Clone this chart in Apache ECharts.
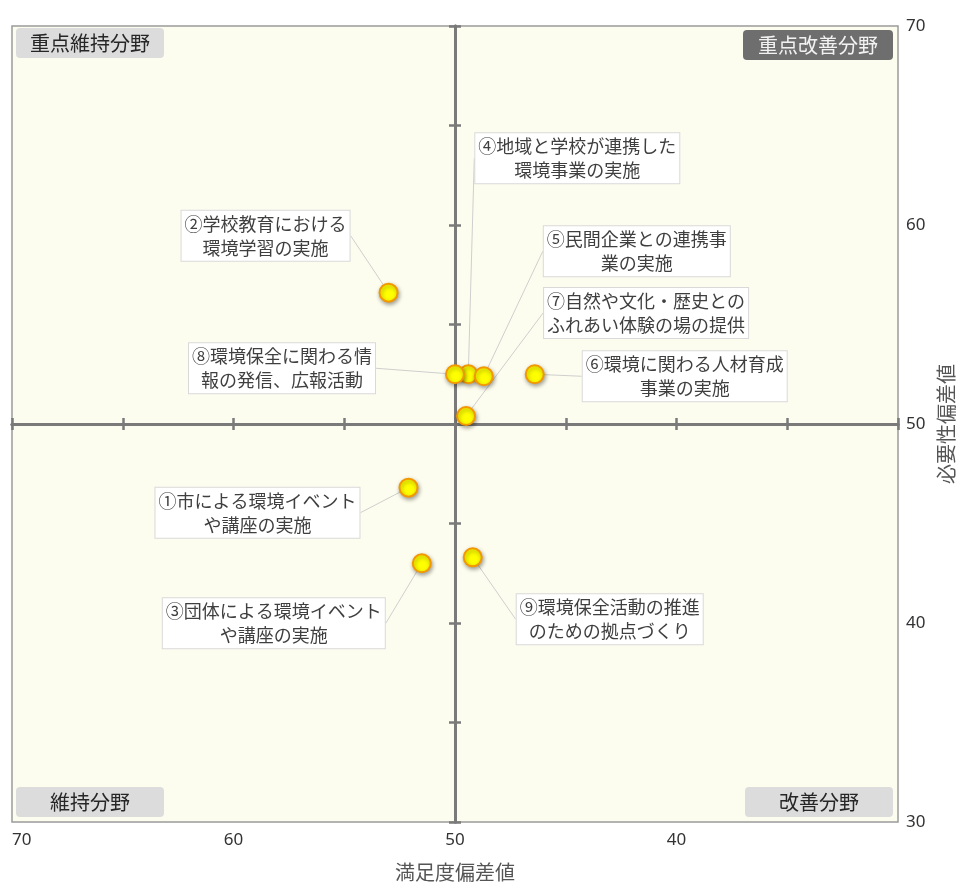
<!DOCTYPE html>
<html lang="ja">
<head>
<meta charset="utf-8">
<title>満足度・必要性 偏差値散布図</title>
<script src="https://cdn.jsdelivr.net/npm/echarts@6/dist/echarts.min.js"></script>
<style>
  html, body { margin: 0; padding: 0; background: #ffffff; }
  #chart { width: 959px; height: 885px; }
</style>
</head>
<body>
<div id="chart"></div>
<script>
// 施策名（①〜⑨）
const itemNames = [
  '①市による環境イベント\nや講座の実施',
  '②学校教育における\n環境学習の実施',
  '③団体による環境イベント\nや講座の実施',
  '④地域と学校が連携した\n環境事業の実施',
  '⑤民間企業との連携事\n業の実施',
  '⑥環境に関わる人材育成\n事業の実施',
  '⑦自然や文化・歴史との\nふれあい体験の場の提供',
  '⑧環境保全に関わる情\n報の発信、広報活動',
  '⑨環境保全活動の推進\nのための拠点づくり'
];
// 満足度偏差値（横軸）
const satisfaction = [52.1, 53.0, 51.5, 49.4, 48.7, 46.4, 49.5, 50.0, 49.2];
// 必要性偏差値（縦軸）
const necessity = [46.8, 56.6, 43.0, 52.5, 52.4, 52.5, 50.4, 52.5, 43.3];
// 目盛ラベル
const xTickLabels = [70, 60, 50, 40];
const yTickLabels = [30, 40, 50, 60, 70];
// 象限名
const quadrantNames = ['重点維持分野', '重点改善分野', '維持分野', '改善分野'];

// ラベル枠の引き出し位置（点からのずれ, px）
const labelShift = [
  [-151, 25], [-123, -57], [-148, 60], [109, -216], [153, -125],
  [150, 2], [180, -103], [-173, -6], [137, 62]
];

const FONT = '"Noto Sans CJK JP", "Noto Sans", sans-serif';
const GRID = { left: 12, right: 61, top: 26, bottom: 63 };
const PLOT_W = 959 - GRID.left - GRID.right;
const PLOT_H = 885 - GRID.top - GRID.bottom;

const points = satisfaction.map((x, i) => ({ value: [x, necessity[i]], name: itemNames[i] }));

// 中央（偏差値50）で交差する軸線
function crossX(inside) {
  return {
    type: 'value', min: 30, max: 70, interval: 5, inverse: true,
    position: 'bottom', offset: -PLOT_H / 2,
    axisLine: { show: true, lineStyle: { color: '#7a7a7a', width: 3 } },
    axisTick: { show: true, inside: inside, length: 6, lineStyle: { color: '#7a7a7a', width: 2.5 } },
    axisLabel: { show: false }, splitLine: { show: false }
  };
}
function crossY(inside) {
  return {
    type: 'value', min: 30, max: 70, interval: 5,
    position: 'left', offset: -PLOT_W / 2,
    axisLine: { show: true, lineStyle: { color: '#7a7a7a', width: 3 } },
    axisTick: { show: true, inside: inside, length: 6, lineStyle: { color: '#7a7a7a', width: 2.5 } },
    axisLabel: { show: false }, splitLine: { show: false }
  };
}

function quadTitle(text, pos, dark, padH) {
  return Object.assign({
    text: text,
    backgroundColor: dark ? '#6e6e6e' : '#dcdcdc',
    borderRadius: 4,
    padding: [5, padH, 4, padH],
    textStyle: { fontFamily: FONT, fontSize: 20, fontWeight: 'normal', color: dark ? '#f2f2f2' : '#262626', lineHeight: 21 }
  }, pos);
}

const chart = echarts.init(document.getElementById('chart'), null, { renderer: 'canvas' });
chart.setOption({
  animation: false,
  backgroundColor: '#ffffff',
  textStyle: { fontFamily: FONT },
  title: [
    quadTitle(quadrantNames[0], { left: 16, top: 28 }, false, 14),
    quadTitle(quadrantNames[1], { right: 66, top: 30 }, true, 15),
    quadTitle(quadrantNames[2], { left: 16, top: 787 }, false, 34),
    quadTitle(quadrantNames[3], { right: 66, top: 787 }, false, 34)
  ],
  grid: Object.assign({
    show: true, backgroundColor: '#fdfdef', borderColor: '#9a9a9a', borderWidth: 1.5,
    outerBoundsMode: 'none', containLabel: false
  }, GRID),
  xAxis: [
    {
      type: 'value', min: 30, max: 70, interval: 10, inverse: true, position: 'bottom',
      name: '満足度偏差値', nameLocation: 'middle', nameGap: 40,
      nameTextStyle: { fontFamily: FONT, fontSize: 20, color: '#555' },
      axisLine: { show: false }, axisTick: { show: false }, splitLine: { show: false },
      axisLabel: {
        margin: 10, fontSize: 17, color: '#333', fontFamily: '"Noto Sans", sans-serif',
        alignMaxLabel: 'left',
        formatter: v => (xTickLabels.indexOf(v) >= 0 ? String(v) : '')
      }
    },
    crossX(true),
    crossX(false)
  ],
  yAxis: [
    {
      type: 'value', min: 30, max: 70, interval: 10, position: 'right',
      name: '必要性偏差値', nameLocation: 'middle', nameGap: 32, nameRotate: 90,
      nameTextStyle: { fontFamily: FONT, fontSize: 20, color: '#555' },
      axisLine: { show: false }, axisTick: { show: false }, splitLine: { show: false },
      axisLabel: {
        margin: 8, fontSize: 17, color: '#333', fontFamily: '"Noto Sans", sans-serif',
        padding: [0, 0, 6, 0],
        formatter: v => (yTickLabels.indexOf(v) >= 0 ? String(v) : '')
      }
    },
    crossY(true),
    crossY(false)
  ],
  series: [{
    type: 'scatter',
    xAxisIndex: 0,
    yAxisIndex: 0,
    data: points,
    symbol: 'circle',
    symbolSize: 18,
    z: 5,
    itemStyle: {
      opacity: 1,
      color: '#ffff00', borderColor: '#f39800', borderWidth: 2,
      shadowBlur: 4, shadowColor: 'rgba(0,0,0,0.35)', shadowOffsetX: 1, shadowOffsetY: 2
    },
    label: {
      show: true,
      position: 'inside',
      formatter: p => p.name,
      fontFamily: FONT,
      fontSize: 18,
      lineHeight: 24,
      color: '#3f3f3f',
      align: 'center',
      backgroundColor: '#ffffff',
      borderColor: '#d9d9d9',
      borderWidth: 1,
      padding: [1, 3, 1, 3]
    },
    labelLine: {
      show: true,
      lineStyle: { color: '#cfcfcf', width: 1 }
    },
    labelLayout: p => ({ dx: labelShift[p.dataIndex][0], dy: labelShift[p.dataIndex][1] })
  }]
});
</script>
</body>
</html>
